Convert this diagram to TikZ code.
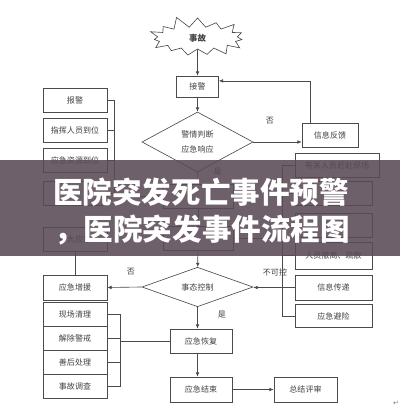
\documentclass[tikz,border=0pt]{standalone}
\usepackage{fontspec}
\newfontfamily\cjk{Noto Sans CJK SC}
\newfontfamily\symfont{DejaVu Sans}
\usetikzlibrary{shapes.geometric,shapes.symbols,arrows.meta}

\definecolor{linegray}{RGB}{75,75,75}
\definecolor{textgray}{RGB}{65,65,65}
\definecolor{bandgray}{RGB}{90,74,86}

\tikzset{
  box/.style={draw=linegray, line width=0.45pt, minimum width=1.6cm, minimum height=0.6cm,
    inner sep=0pt, text=textgray, font=\cjk\fontsize{5.7pt}{7pt}\selectfont},
  choice/.style={diamond, draw=linegray, line width=0.45pt, inner sep=0pt, align=center,
    minimum width=2.775cm, text=textgray, font=\cjk\fontsize{5.7pt}{11pt}\selectfont},
  tag/.style={inner sep=0pt, text=textgray, font=\cjk\fontsize{5.7pt}{7pt}\selectfont},
  flow/.style={draw=linegray, line width=0.45pt, -{Latex[length=3pt,width=2.6pt]}},
  link/.style={draw=linegray, line width=0.45pt},
  headline/.style={text=white, inner sep=0pt, font=\cjk\bfseries\fontsize{21pt}{24pt}\selectfont}
}

\begin{document}
\begin{tikzpicture}[x=0.025cm, y=-0.025cm]
\useasboundingbox (0,0) rectangle (400,418);
\fill[white] (0,0) rectangle (400,418);

% top of the flow
\node[starburst, starburst points=15, starburst point height=0.3cm, random starburst=11,
  draw=linegray, line width=0.45pt, minimum width=2.6cm, minimum height=1.15cm, inner sep=0pt,
  text=textgray, font=\cjk\bfseries\fontsize{6pt}{7pt}\selectfont] (accident) at (197.5,38) {事故};
\node[box, minimum width=1.05cm, minimum height=0.525cm] (alarm) at (197.5,86.5) {接警};
\node[choice, minimum height=1.5cm] (judge) at (197.5,142) {警情判断\\应急响应};
\node[box, minimum width=1.4cm] (feedback) at (330,135.5) {信息反馈};
\node[tag] (no1) at (270,121) {否};
\node[tag] (yes1) at (218,172) {是};

% left column
\node[box] (report) at (75,100) {报警};
\node[box] (command) at (75,130) {指挥人员到位};
\node[box] (resource) at (75,160) {应急资源到位};
\node[box] (left4) at (75,193) {};
\node[box] (expand) at (75,239) {扩大应急};
\node[box, minimum height=0.625cm] (reinforce) at (75,287.5) {应急增援};
\node[box] (clean) at (75,314) {现场清理};
\node[box] (lift) at (75,338) {解除警戒};
\node[box] (after) at (75,362) {善后处理};
\node[box] (investigate) at (75,386) {事故调查};

% middle column
\node[box, minimum width=1.75cm] (confirm) at (198,196) {};
\node[box, minimum width=1.75cm] (rescue) at (198,238.5) {};
\node[choice, minimum height=0.9cm] (control) at (197.5,287) {事态控制};
\node[tag] (no2) at (131,272) {否};
\node[tag] (uncontrolled) at (275,272) {不可控};
\node[tag] (yes2) at (222,315) {是};
\node[box, minimum width=1.55cm] (recover) at (201,341) {应急恢复};
\node[box, minimum width=1.55cm, minimum height=0.625cm] (finish) at (201,389.5) {应急结束};
\node[box, minimum width=1.575cm, minimum height=0.625cm] (review) at (305.5,389.5) {总结评审};

% right column
\node[box, minimum width=2.1cm] (arrive) at (337,165) {有关人员赶赴现场};
\node[box, minimum width=1.925cm] (right2) at (333.5,193.5) {};
\node[box, minimum width=1.925cm] (right3) at (333.5,225) {};
\node[box, minimum width=1.925cm, minimum height=0.675cm] (evacuate) at (333.5,255.5) {人员撤离、疏散};
\node[box, minimum width=1.925cm, minimum height=0.625cm] (relay) at (333.5,287.5) {信息传递};
\node[box, minimum width=1.925cm, minimum height=0.575cm] (avoid) at (333.5,316) {应急避险};

% connectors
\draw[flow] (accident) -- (alarm);
\draw[flow] (alarm) -- (judge);
\draw[flow] (judge.east) -- (judge.east -| feedback.west);
\draw[flow] ([xshift=-0.5cm]feedback.north) |- ([yshift=0.14cm]alarm.east);
\draw[flow] (judge) -- (confirm);
\draw[flow] (confirm) -- (rescue);
\draw[flow] (rescue) -- (control);

\draw[link] (report.east) -- ++(7,0) coordinate (lb1) -- (lb1 |- left4.east) -- (left4.east);
\draw[link] (command.east) -- (command.east -| lb1);
\draw[link] (resource.east) -- (resource.east -| lb1);
\draw[link] (lb1 |- confirm.west) -- (confirm.west);
\draw[link] (expand) -- (reinforce);

\draw[flow] (control.west) -- (reinforce.east);
\draw[flow] (relay.west) -- (relay.west -| control.east);

\draw[link] (arrive.west) -- ++(-12,0) coordinate (rb1) -- (rb1 |- avoid.west) -- (avoid.west);
\draw[link] (right2.west) -- (right2.west -| rb1);
\draw[link] (right3.west) -- (right3.west -| rb1);
\draw[link] (evacuate.west) -- (evacuate.west -| rb1);
\draw[link] (rescue.east) -- (rescue.east -| rb1);

\draw[link] (clean.east) -- ++(13,0) coordinate (lb2) -- (lb2 |- investigate.east) -- (investigate.east);
\draw[link] (lift.east) -- (lift.east -| lb2);
\draw[link] (after.east) -- (after.east -| lb2);
\draw[link] (lb2 |- recover.west) -- (recover.west);

\draw[flow] (control.south) -- (control.south |- recover.north);
\draw[flow] (control.south |- recover.south) -- (control.south |- finish.north);
\draw[flow] (finish) -- (review);

\node[inner sep=0pt, text=gray, font=\symfont\fontsize{5pt}{5pt}\selectfont] (ret) at (396,403) {↵};

% title band over the chart
\fill[bandgray, opacity=0.88] (0,160) rectangle (400,256);
\node[headline] (title1) at (201,192) {医院突发死亡事件预警};
\node[headline] (title2) at (202,230) {，医院突发事件流程图};
\end{tikzpicture}
\end{document}
